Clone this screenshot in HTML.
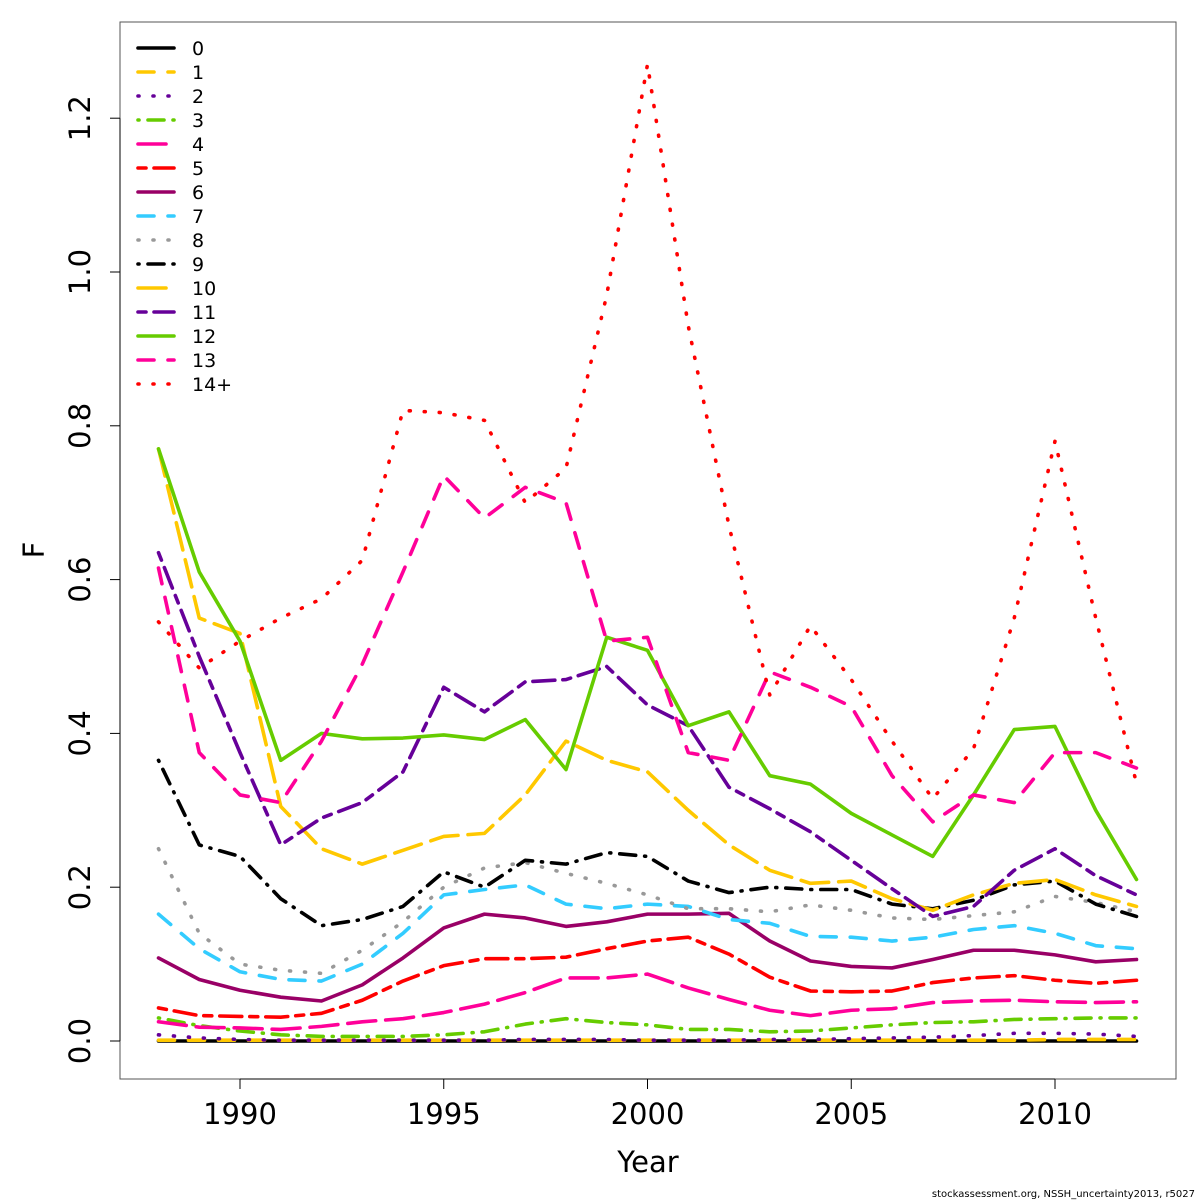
<!DOCTYPE html>
<html><head><meta charset="utf-8"><style>body{margin:0;background:#fff}svg{display:block}text{font-family:"DejaVu Sans","Liberation Sans",sans-serif;fill:#000}</style></head>
<body>
<svg id="chart" width="1200" height="1200" viewBox="0 0 1200 1200" xmlns="http://www.w3.org/2000/svg">
<rect x="0" y="0" width="1200" height="1200" fill="#fff"/>
<rect x="120" y="22" width="1056" height="1057" fill="none" stroke="#555" stroke-width="1"/>
<g id="axes"></g><g id="series"></g><g id="legend"></g>
<text x="648" y="1172" font-size="29" text-anchor="middle">Year</text>
<text x="44" y="550" font-size="29" text-anchor="middle" transform="rotate(-90 44 550)">F</text>
<text x="1195" y="1197" font-size="10" text-anchor="end">stockassessment.org, NSSH_uncertainty2013, r5027</text>
</svg>
<script>
const years=[1988,1989,1990,1991,1992,1993,1994,1995,1996,1997,1998,1999,2000,2001,2002,2003,2004,2005,2006,2007,2008,2009,2010,2011,2012];
const xTicks=[1990,1995,2000,2005,2010];
const yTicks=[0,0.2,0.4,0.6,0.8,1.0,1.2];
const yTickLabels=["0.0","0.2","0.4","0.6","0.8","1.0","1.2"];
const seriesNames=["0","1","2","3","4","5","6","7","8","9","10","11","12","13","14+"];
const f0=[0,0,0,0,0,0,0,0,0,0,0,0,0,0,0,0,0,0,0,0,0,0,0,0,0];
const f1=[0.001,0.001,0.001,0.001,0.001,0.001,0.001,0.001,0.001,0.001,0.001,0.001,0.001,0.001,0.001,0.001,0.001,0.001,0.001,0.001,0.001,0.001,0.002,0.002,0.002];
const f2=[0.008,0.004,0.002,0.001,0.001,0.001,0.001,0.001,0.001,0.002,0.002,0.002,0.001,0.001,0.001,0.002,0.002,0.003,0.004,0.005,0.007,0.01,0.01,0.009,0.006];
const f3=[0.03,0.02,0.013,0.008,0.006,0.006,0.006,0.008,0.012,0.022,0.029,0.024,0.021,0.015,0.015,0.012,0.013,0.017,0.021,0.024,0.025,0.028,0.029,0.03,0.03];
const f4=[0.025,0.018,0.017,0.015,0.019,0.025,0.029,0.037,0.048,0.063,0.082,0.082,0.087,0.069,0.054,0.04,0.033,0.04,0.042,0.05,0.052,0.053,0.051,0.05,0.051];
const f5=[0.043,0.033,0.032,0.031,0.036,0.053,0.078,0.098,0.107,0.107,0.109,0.12,0.13,0.135,0.113,0.083,0.065,0.064,0.065,0.076,0.082,0.085,0.079,0.075,0.079];
const f6=[0.108,0.08,0.066,0.057,0.052,0.073,0.108,0.147,0.165,0.16,0.149,0.155,0.165,0.165,0.166,0.13,0.104,0.097,0.095,0.106,0.118,0.118,0.112,0.103,0.106];
const f7=[0.165,0.12,0.09,0.08,0.078,0.1,0.14,0.19,0.197,0.203,0.178,0.172,0.178,0.175,0.158,0.153,0.136,0.135,0.13,0.135,0.145,0.15,0.14,0.124,0.12];
const f8=[0.25,0.14,0.1,0.092,0.088,0.118,0.155,0.2,0.225,0.232,0.218,0.205,0.19,0.172,0.172,0.168,0.177,0.17,0.16,0.158,0.163,0.168,0.188,0.18,0.168];
const f9=[0.365,0.255,0.24,0.185,0.15,0.158,0.175,0.22,0.2,0.235,0.23,0.245,0.24,0.208,0.193,0.2,0.197,0.197,0.178,0.172,0.183,0.203,0.208,0.178,0.162];
const f10=[0.77,0.55,0.53,0.305,0.25,0.23,0.248,0.266,0.27,0.32,0.39,0.365,0.35,0.3,0.255,0.222,0.205,0.208,0.185,0.17,0.19,0.205,0.21,0.19,0.175];
const f11=[0.635,0.5,0.375,0.255,0.29,0.31,0.35,0.46,0.428,0.467,0.47,0.487,0.437,0.41,0.33,0.302,0.272,0.235,0.198,0.162,0.175,0.222,0.25,0.215,0.19];
const f12=[0.77,0.61,0.52,0.365,0.4,0.393,0.394,0.398,0.392,0.418,0.353,0.525,0.508,0.41,0.428,0.345,0.334,0.296,0.268,0.24,0.32,0.405,0.409,0.3,0.21];
const f13=[0.615,0.375,0.32,0.31,0.39,0.49,0.61,0.735,0.68,0.72,0.7,0.52,0.525,0.375,0.365,0.48,0.46,0.435,0.345,0.285,0.32,0.31,0.375,0.375,0.355];
const f14=[0.545,0.485,0.52,0.55,0.575,0.625,0.82,0.817,0.807,0.7,0.745,0.97,1.27,0.93,0.67,0.45,0.54,0.47,0.39,0.315,0.38,0.55,0.78,0.55,0.335];
const allSeries=[f0,f1,f2,f3,f4,f5,f6,f7,f8,f9,f10,f11,f12,f13,f14];
const colors=["#000","#ffc800","#660099","#66cc00","#ff0099","#ff0000","#990066","#33ccff","#999999"];
const dashes=["none","16 14","1 14","1 9 16 9","28 10","8 8 22 8"];
const NS="http://www.w3.org/2000/svg";
function X(yr){return 240+(yr-1990)*40.75;}
function Y(v){return 1041-v*769;}
function mk(tag,attrs,parent){const e=document.createElementNS(NS,tag);for(const k in attrs)e.setAttribute(k,attrs[k]);parent.appendChild(e);return e;}
const axes=document.getElementById('axes');
mk('line',{x1:X(1990),x2:X(2010),y1:1079,y2:1079,stroke:'#000'},axes);
xTicks.forEach(t=>{const l=mk('line',{x1:X(t),x2:X(t),y1:1079,y2:1089,stroke:'#000'},axes);


const tx=mk('text',{x:X(t),y:1124,'font-size':29,'text-anchor':'middle'},axes);tx.textContent=t;

});
mk('line',{x1:120,x2:120,y1:Y(0),y2:Y(1.2),stroke:'#000'},axes);
yTicks.forEach((t,i)=>{const l=mk('line',{x1:110,x2:120,y1:Y(t),y2:Y(t),stroke:'#000'},axes);


const tx=mk('text',{x:90,y:Y(t),'font-size':29,'text-anchor':'middle',transform:`rotate(-90 90 ${Y(t)})`},axes);tx.textContent=yTickLabels[i];

});
const sg=document.getElementById('series');
const lg=document.getElementById('legend');
allSeries.forEach((s,i)=>{const c=colors[i%9],d=dashes[i%6];
const p=mk('polyline',{points:s.map((v,j)=>X(years[j])+','+Y(v)).join(' '),fill:'none',stroke:c,'stroke-width':3.6,'stroke-dasharray':d,'stroke-linecap':'round','stroke-linejoin':'round'},sg);


const ly=48+i*24;
const ll=mk('line',{x1:138,x2:174,y1:ly,y2:ly,stroke:c,'stroke-width':3.6,'stroke-dasharray':d,'stroke-linecap':'round'},lg);


const lt=mk('text',{x:192,y:ly+7,'font-size':19},lg);lt.textContent=seriesNames[i];

});
</script>
</body></html>
